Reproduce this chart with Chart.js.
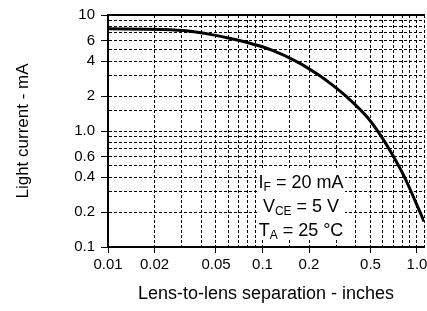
<!DOCTYPE html>
<html>
<head>
<meta charset="utf-8">
<script src="https://cdn.jsdelivr.net/npm/chart.js@4.4.1/dist/chart.umd.min.js"></script>
<style>
  html, body { margin: 0; padding: 0; background: #fff; }
  #wrap { width: 427px; height: 311px; }
</style>
</head>
<body>
<div id="wrap"><canvas id="chart"></canvas></div>
<script>
// lens-to-lens separation (inches) vs light current (mA)
const separation   = [0.01, 0.023, 0.033, 0.045, 0.063, 0.085, 0.114, 0.17, 0.23, 0.28, 0.36, 0.48, 0.58, 0.71, 0.83, 0.96, 1.11];
const lightCurrent = [7.6, 7.5, 7.28, 6.84, 6.24, 5.65, 5.0, 3.91, 3.05, 2.52, 1.91, 1.3, 0.92, 0.59, 0.40, 0.26, 0.166];

const xTickValues = [0.01, 0.02, 0.05, 0.1, 0.2, 0.5, 1];
const xTickLabels = ['0.01', '0.02', '0.05', '0.1', '0.2', '0.5', '1.0'];
const yTickValues = [0.1, 0.2, 0.4, 0.6, 1, 2, 4, 6, 10];
const yTickLabels = ['0.1', '0.2', '0.4', '0.6', '1.0', '2', '4', '6', '10'];

// test conditions: main letter, subscript, rest
const conditions = [
  ['I', 'F', ' = 20 mA'],
  ['V', 'CE', ' = 5 V'],
  ['T', 'A', ' = 25 °C']
];

const FONT = "'Liberation Sans', Arial, sans-serif";

function tickIndex(list, v) {
  return list.findIndex(t => Math.abs(t - v) < t * 1e-6);
}

// white box with the test conditions, drawn over the grid
const conditionsBox = {
  id: 'conditionsBox',
  beforeDatasetsDraw(chart) {
    const { ctx, chartArea } = chart;
    const cx = chartArea.left + 193;
    const y0 = chartArea.top + 166;
    const lh = 24;
    ctx.save();
    ctx.fillStyle = '#fff';
    ctx.fillRect(cx - 44, y0 - 12, 88, lh * 2 + 23);
    ctx.fillStyle = '#000';
    ctx.textBaseline = 'alphabetic';
    conditions.forEach(([main, sub, rest], i) => {
      const big = '18px ' + FONT, small = '12px ' + FONT;
      ctx.font = big;
      const w1 = ctx.measureText(main).width, w3 = ctx.measureText(rest).width;
      ctx.font = small;
      const w2 = ctx.measureText(sub).width;
      let x = cx - (w1 + w2 + w3) / 2;
      const base = y0 + i * lh + 7;
      ctx.font = big;
      ctx.fillText(main, x, base);
      x += w1;
      ctx.font = small;
      ctx.fillText(sub, x, base + 3);
      x += w2;
      ctx.font = big;
      ctx.fillText(rest, x, base);
    });
    ctx.restore();
  }
};

new Chart(document.getElementById('chart'), {
  type: 'line',
  data: {
    datasets: [{
      data: separation.map((x, i) => ({ x, y: lightCurrent[i] })),
      borderColor: '#000',
      borderWidth: 3,
      pointRadius: 0,
      cubicInterpolationMode: 'monotone',
      fill: false
    }]
  },
  options: {
    responsive: true,
    maintainAspectRatio: false,
    animation: false,
    devicePixelRatio: 1,
    layout: { padding: { top: 14, left: 0, right: 0, bottom: 0 } },
    plugins: { legend: { display: false }, tooltip: { enabled: false } },
    scales: {
      x: {
        type: 'logarithmic',
        min: 0.01,
        max: 1.11,
        afterFit: s => { s.height = 64; },
        border: { display: true, color: '#000', width: 2, dash: [3, 2] },
        grid: {
          color: '#000',
          lineWidth: 1,
          tickLength: 6,
          tickWidth: 1,
          tickBorderDash: [],
          tickColor: c => tickIndex(xTickValues, c.tick.value) >= 0 ? '#000' : 'rgba(0,0,0,0)'
        },
        ticks: {
          autoSkip: false,
          maxRotation: 0,
          padding: 3,
          color: '#000',
          font: { family: FONT, size: 15 },
          callback: v => { const k = tickIndex(xTickValues, v); return k >= 0 ? xTickLabels[k] : ''; }
        },
        title: {
          display: true,
          text: 'Lens-to-lens separation - inches',
          color: '#000',
          font: { family: FONT, size: 18 },
          padding: { top: 0, bottom: 6 }
        }
      },
      x2: {
        type: 'linear',
        position: 'top',
        afterFit: s => { s.height = 0; },
        border: { display: true, color: '#000', width: 2 },
        grid: { display: false, drawTicks: false },
        ticks: { display: false }
      },
      y: {
        type: 'logarithmic',
        min: 0.1,
        max: 10,
        afterFit: s => { s.width = 108; },
        border: { display: true, color: '#000', width: 2, dash: [3, 2] },
        grid: {
          color: '#000',
          lineWidth: 1,
          tickLength: 7,
          tickWidth: 1,
          tickBorderDash: [],
          tickColor: c => tickIndex(yTickValues, c.tick.value) >= 0 ? '#000' : 'rgba(0,0,0,0)'
        },
        ticks: {
          autoSkip: false,
          padding: 6,
          color: '#000',
          font: { family: FONT, size: 15 },
          callback: v => { const k = tickIndex(yTickValues, v); return k >= 0 ? yTickLabels[k] : ''; }
        },
        title: {
          display: true,
          text: 'Light current - mA',
          color: '#000',
          font: { family: FONT, size: 17 },
          padding: { top: 13, bottom: 0 }
        }
      }
    }
  },
  plugins: [conditionsBox]
});
</script>
</body>
</html>
